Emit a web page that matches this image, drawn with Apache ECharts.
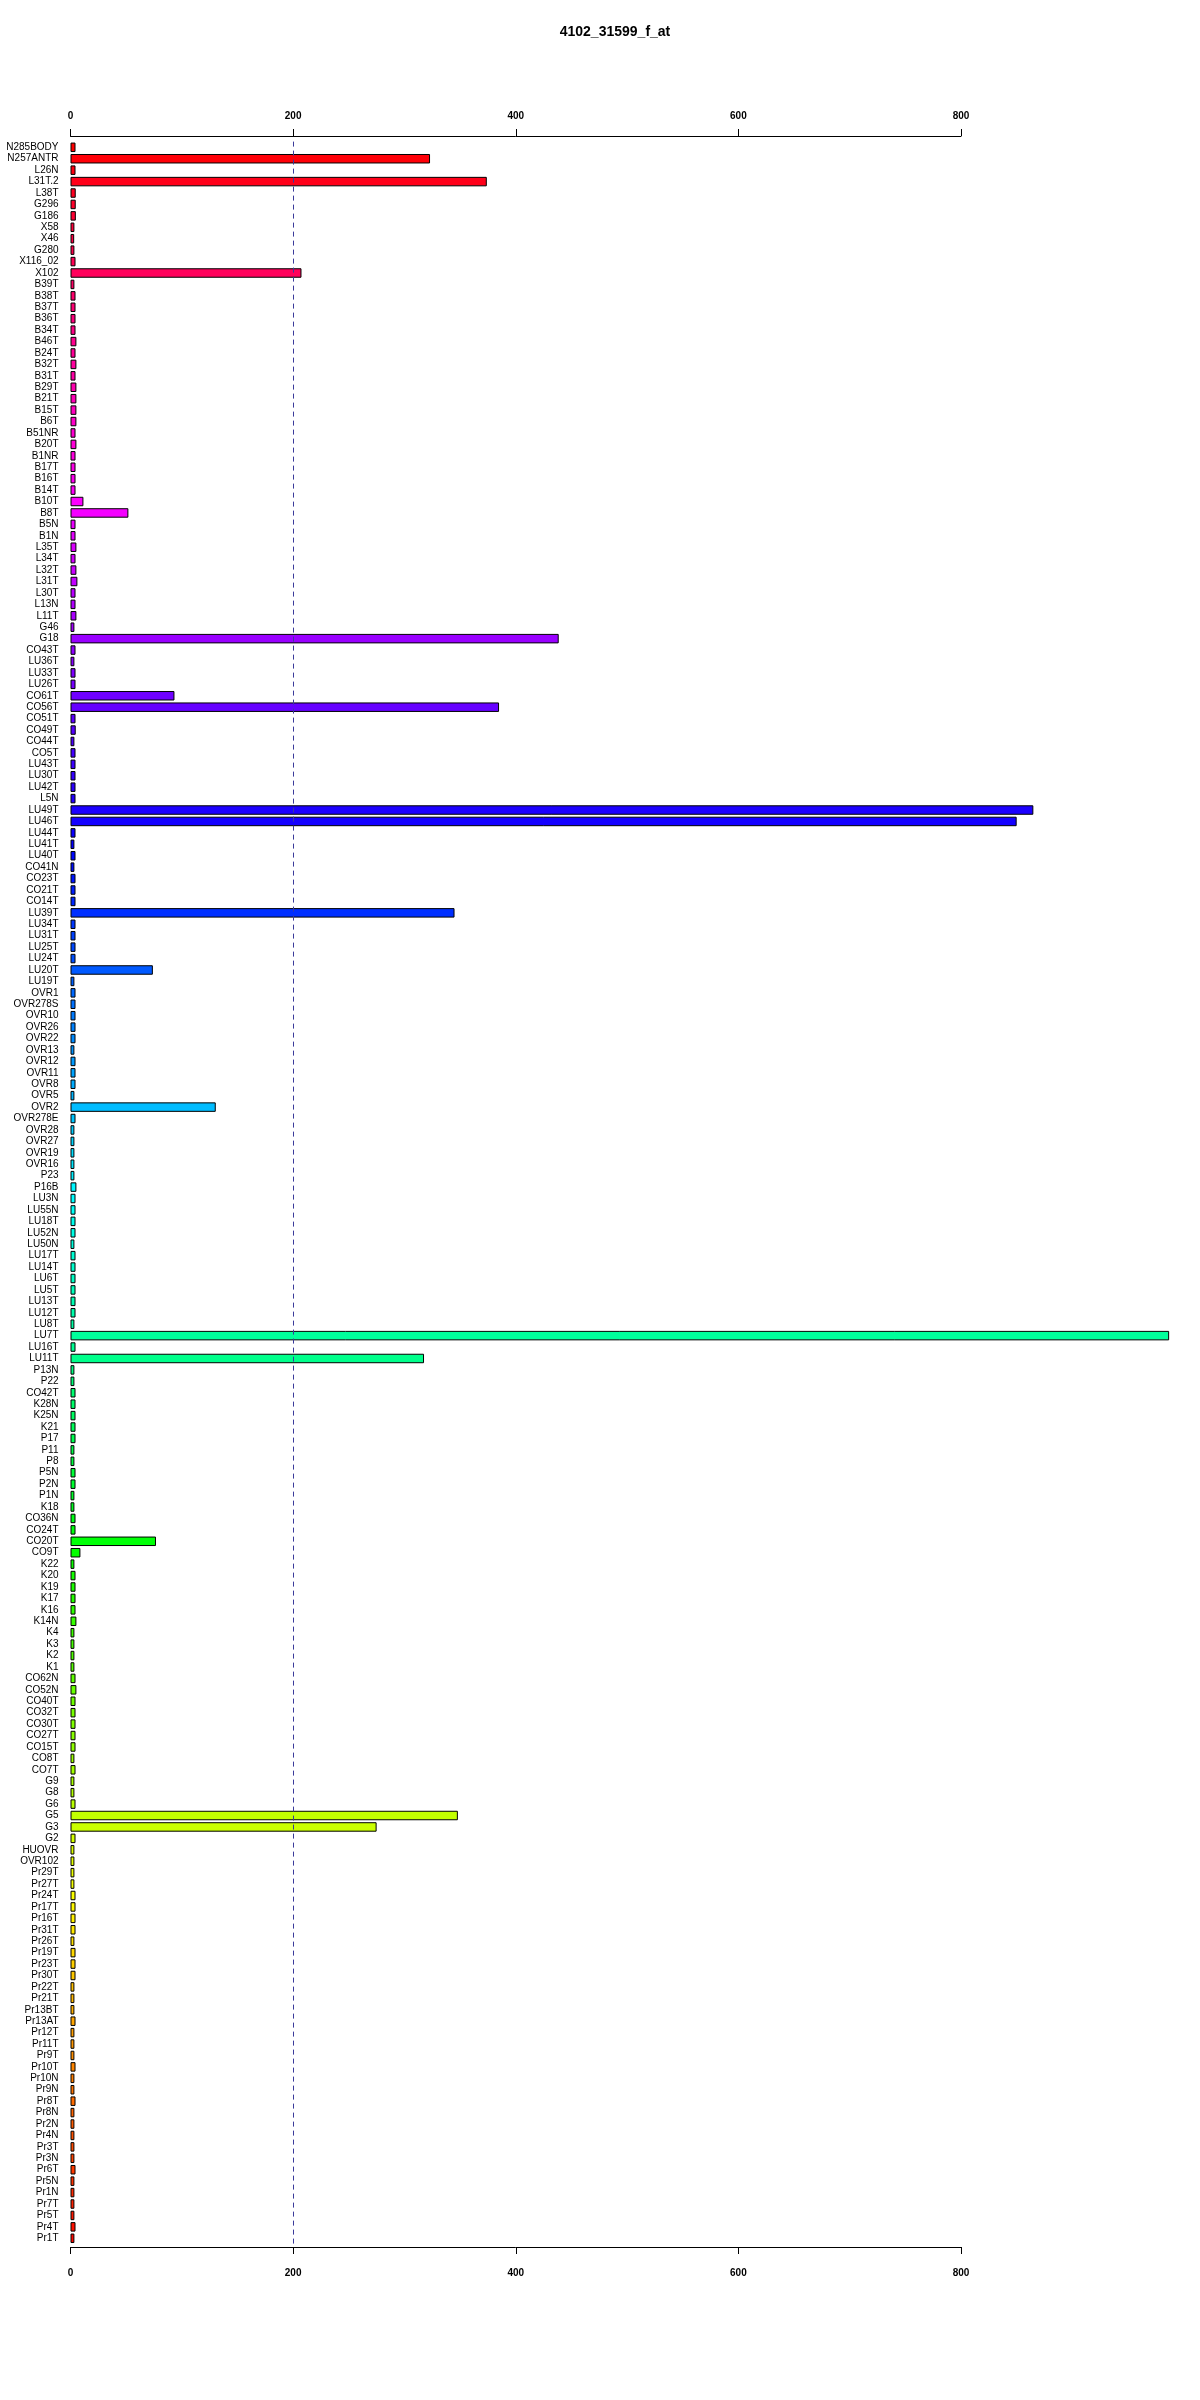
<!DOCTYPE html>
<html>
<head>
<meta charset="utf-8">
<script src="https://cdn.jsdelivr.net/npm/echarts@6/dist/echarts.min.js"></script>
<style>
html,body{margin:0;padding:0;background:#fff;}
#chart{width:1200px;height:2400px;}
</style>
</head>
<body>
<div id="chart"></div>
<script>
const titleText = "4102_31599_f_at";
const xTicks = [0, 200, 400, 600, 800];
const refLine = 200;

const categories = [
"N285BODY","N257ANTR","L26N","L31T.2","L38T","G296","G186","X58","X46","G280","X116_02","X102",
"B39T","B38T","B37T","B36T","B34T","B46T","B24T","B32T","B31T","B29T","B21T","B15T","B6T","B51NR",
"B20T","B1NR","B17T","B16T","B14T","B10T","B8T","B5N","B1N","L35T","L34T","L32T","L31T","L30T",
"L13N","L11T","G46","G18","CO43T","LU36T","LU33T","LU26T","CO61T","CO56T","CO51T","CO49T","CO44T",
"CO5T","LU43T","LU30T","LU42T","L5N","LU49T","LU46T","LU44T","LU41T","LU40T","CO41N","CO23T",
"CO21T","CO14T","LU39T","LU34T","LU31T","LU25T","LU24T","LU20T","LU19T","OVR1","OVR278S","OVR10",
"OVR26","OVR22","OVR13","OVR12","OVR11","OVR8","OVR5","OVR2","OVR278E","OVR28","OVR27","OVR19",
"OVR16","P23","P16B","LU3N","LU55N","LU18T","LU52N","LU50N","LU17T","LU14T","LU6T","LU5T","LU13T",
"LU12T","LU8T","LU7T","LU16T","LU11T","P13N","P22","CO42T","K28N","K25N","K21","P17","P11","P8",
"P5N","P2N","P1N","K18","CO36N","CO24T","CO20T","CO9T","K22","K20","K19","K17","K16","K14N","K4",
"K3","K2","K1","CO62N","CO52N","CO40T","CO32T","CO30T","CO27T","CO15T","CO8T","CO7T","G9","G8",
"G6","G5","G3","G2","HUOVR","OVR102","Pr29T","Pr27T","Pr24T","Pr17T","Pr16T","Pr31T","Pr26T",
"Pr19T","Pr23T","Pr30T","Pr22T","Pr21T","Pr13BT","Pr13AT","Pr12T","Pr11T","Pr9T","Pr10T","Pr10N",
"Pr9N","Pr8T","Pr8N","Pr2N","Pr4N","Pr3T","Pr3N","Pr6T","Pr5N","Pr1N","Pr7T","Pr5T","Pr4T","Pr1T"
];

const values = [
4.5,323,4.5,374,4.7,4.7,4.8,3.5,3.3,3.5,4.5,207.5,
3.5,4.5,4.5,4.5,4.5,5.3,4.5,5.3,4.5,5.3,5.3,5.3,5.3,4.5,
5.3,4.5,4.5,4.5,4.5,11.6,52,4.5,4.5,5.3,4.5,5.3,6.2,4.5,
4.5,5.3,3.5,438.6,4.5,3.5,4.5,4.5,93.4,385,4.5,4.7,3.5,
4.5,4.5,4.5,4.5,4.5,865,850,4.5,3.5,4.5,3.5,4.5,
4.5,4.5,345,4.5,4.5,4.5,4.5,74,3.5,4.5,4.5,4.5,
4.5,4.5,3.5,4.5,4.5,4.5,3.5,130.5,4.5,3.5,3.5,3.5,
3.5,3.5,5.3,4.5,4.5,4.5,4.5,3.5,4.5,4.5,4.5,4.5,4.5,
4.5,3.5,987,4.5,317.6,3.5,3.5,4.5,4.5,4.5,4.5,4.5,3.5,3.5,
4.5,4.5,3.5,3.5,4.5,4.5,76.8,8.9,3.5,4.5,4.5,4.5,4.5,5.3,3.5,
3.5,3.5,3.5,4.5,5.3,4.5,4.5,4.5,4.5,4.5,3.5,4.5,3.5,3.5,
4.5,348,275,4.5,3.5,3.5,3.5,3.5,4.5,4.5,4.5,4.5,3.5,
4.5,4.5,4.5,3.5,3.5,3.5,4.5,3.5,3.5,3.5,4.5,3.5,
3.5,4.5,3.5,3.5,3.5,3.5,3.5,4.5,3.5,3.5,3.5,3.5,4.5,3.5
];

if (categories.length !== values.length) console.error('length mismatch', categories.length, values.length);

const n = categories.length;
function barColor(i) {
  const h = 360 * (1 - i / n);
  return 'hsl(' + h.toFixed(1) + ',100%,50%)';
}

const chart = echarts.init(document.getElementById('chart'), null, {renderer: 'canvas'});

const gridLeft = 70.5, gridRight = 239, gridTop = 141.6, gridHeight = 2102.4;

const axisCommon = {
  type: 'value',
  min: xTicks[0],
  max: xTicks[xTicks.length - 1],
  interval: xTicks[1] - xTicks[0],
  axisLine: {show: true, lineStyle: {color: '#000', width: 1}},
  axisTick: {show: true, length: 7, lineStyle: {color: '#000'}},
  splitLine: {show: false},
  axisLabel: {color: '#000', fontSize: 10, fontWeight: 'bold', fontFamily: 'Liberation Sans, Arial, sans-serif'}
};

chart.setOption({
  animation: false,
  backgroundColor: '#fff',
  title: {
    text: titleText,
    left: 610,
    top: 20,
    textAlign: 'center',
    textStyle: {fontSize: 14, fontWeight: 'bold', color: '#000', fontFamily: 'Liberation Sans, Arial, sans-serif'}
  },
  grid: {left: gridLeft, right: gridRight, top: gridTop, height: gridHeight, containLabel: false},
  xAxis: [
    Object.assign({}, axisCommon, {position: 'top', offset: 5.6,
      axisLabel: Object.assign({}, axisCommon.axisLabel, {margin: 15})}),
    Object.assign({}, axisCommon, {position: 'bottom', offset: 3,
      axisLabel: Object.assign({}, axisCommon.axisLabel, {margin: 21})})
  ],
  yAxis: {
    type: 'category',
    data: categories,
    inverse: true,
    axisLine: {show: false},
    axisTick: {show: false},
    axisLabel: {color: '#000', fontSize: 10, fontFamily: 'Liberation Sans, Arial, sans-serif', margin: 12, interval: 0}
  },
  series: [{
    type: 'bar',
    xAxisIndex: 0,
    data: values.map((v, i) => ({value: v, itemStyle: {color: barColor(i)}})),
    barCategoryGap: '17%',
    clip: false,
    itemStyle: {borderColor: '#000', borderWidth: 1},
    markLine: {
      silent: true,
      symbol: 'none',
      label: {show: false},
      lineStyle: {color: '#3a3a9a', type: [5, 4], width: 1},
      data: [{xAxis: refLine}]
    }
  }]
});
</script>
</body>
</html>
